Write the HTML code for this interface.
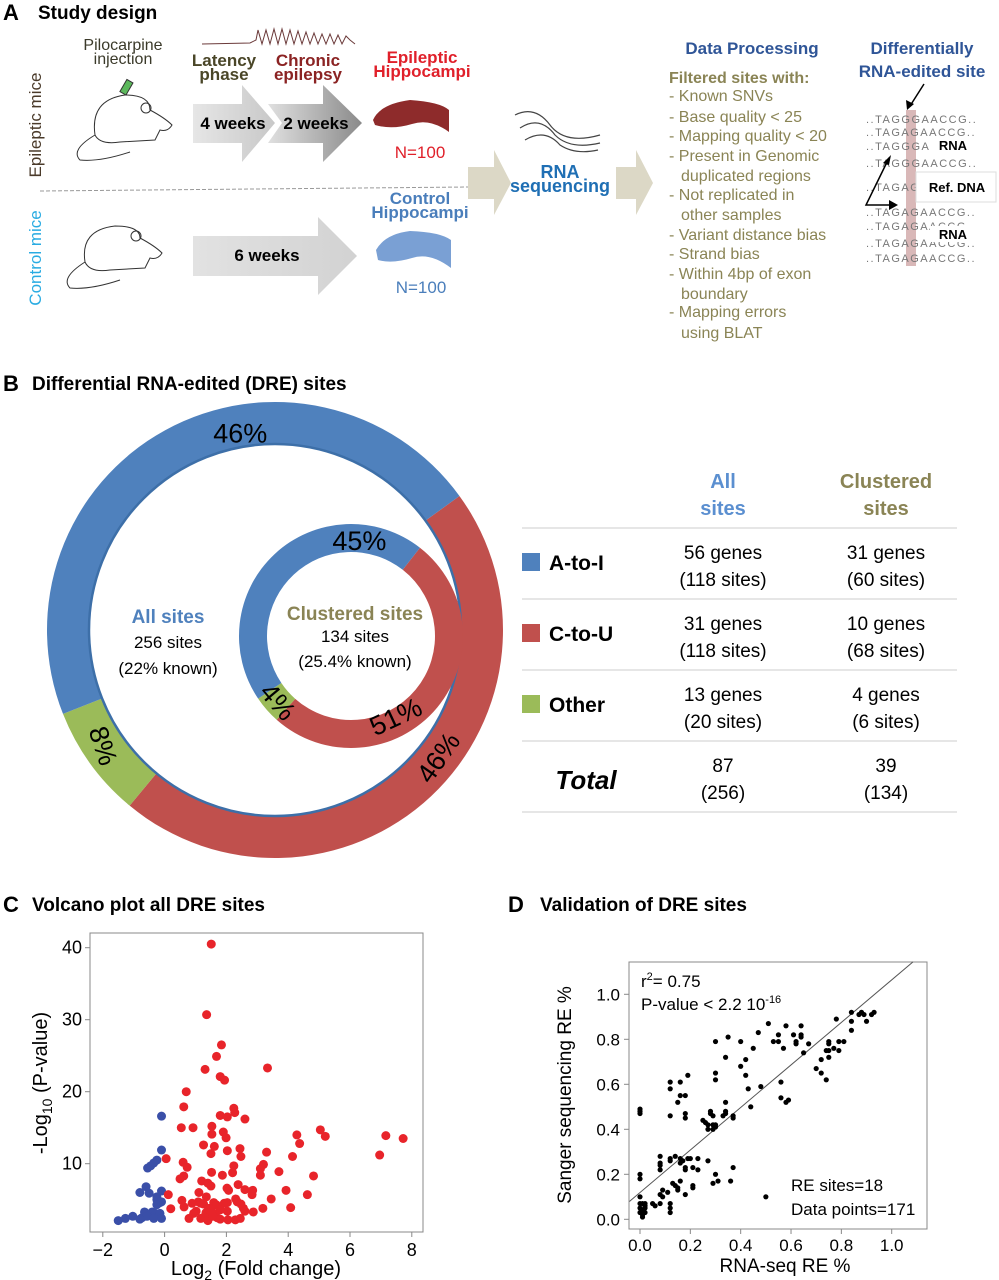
<!DOCTYPE html>
<html><head><meta charset="utf-8">
<style>
body{margin:0;background:#fff;width:999px;height:1280px;overflow:hidden;font-family:"Liberation Sans",sans-serif;}
svg{position:absolute;left:0;top:0;}
text{font-family:"Liberation Sans",sans-serif;}
</style></head>
<body>
<svg id="fig" width="999" height="1280" viewBox="0 0 999 1280">
<defs>
<linearGradient id="g1" x1="0" x2="1" y1="0" y2="0"><stop offset="0" stop-color="#e6e6e6"/><stop offset="1" stop-color="#c8c8c8"/></linearGradient>
<linearGradient id="g2" x1="0" x2="1" y1="0" y2="0"><stop offset="0" stop-color="#e0e0e0"/><stop offset="1" stop-color="#8a8a8a"/></linearGradient>
<linearGradient id="g3" x1="0" x2="1" y1="0" y2="0"><stop offset="0" stop-color="#e2e2e2"/><stop offset="1" stop-color="#d2d2d2"/></linearGradient>
</defs>
<!-- Panel A -->
<g>
<text x="3" y="20" font-size="22" font-weight="bold">A</text>
<text x="38" y="19" font-size="19" font-weight="bold">Study design</text>
<text x="123" y="50" font-size="16" fill="#3b3a2a" text-anchor="middle">Pilocarpine</text>
<text x="123" y="64" font-size="16" fill="#3b3a2a" text-anchor="middle">injection</text>
<path d="M202 44 L250 43 L256 40 L258 30 L262 44 L266 30 L270 44 L274 29 L278 44 L282 29 L286 44 L290 30 L294 44 L298 31 L302 44 L306 32 L310 44 L314 33 L318 44 L322 34 L326 44 L330 34 L334 44 L338 35 L342 44 L346 36 L350 40 L355 44" fill="none" stroke="#6b3a3a" stroke-width="1"/>
<text x="224" y="66" font-size="17" font-weight="bold" fill="#4a4628" text-anchor="middle">Latency</text>
<text x="224" y="80" font-size="17" font-weight="bold" fill="#4a4628" text-anchor="middle">phase</text>
<text x="308" y="66" font-size="17" font-weight="bold" fill="#8b2323" text-anchor="middle">Chronic</text>
<text x="308" y="80" font-size="17" font-weight="bold" fill="#8b2323" text-anchor="middle">epilepsy</text>
<path d="M193 104 H242 V85 L275 123 L242 162 V143 H193 Z" fill="url(#g1)"/>
<path d="M268 104 H323 V85 L362 123 L323 162 V143 H268 L282 123 Z" fill="url(#g2)"/>
<text x="233" y="129" font-size="17" font-weight="bold" text-anchor="middle">4 weeks</text>
<text x="316" y="129" font-size="17" font-weight="bold" text-anchor="middle">2 weeks</text>
<text x="422" y="63" font-size="17" font-weight="bold" fill="#e0202a" text-anchor="middle">Epileptic</text>
<text x="422" y="77" font-size="17" font-weight="bold" fill="#e0202a" text-anchor="middle">Hippocampi</text>
<path d="M373 120 Q380 104 410 100 Q440 102 449 110 L449 132 Q430 118 412 124 Q392 130 375 125 Z" fill="#8e2b2b"/>
<text x="420" y="158" font-size="17" fill="#e0202a" text-anchor="middle">N=100</text>
<text transform="translate(41,125) rotate(-90)" font-size="17" fill="#4a3a2a" text-anchor="middle">Epileptic mice</text>
<line x1="40" y1="191" x2="468" y2="187" stroke="#999" stroke-dasharray="4,2"/>
<text transform="translate(41,258) rotate(-90)" font-size="17" fill="#29abe2" text-anchor="middle">Control mice</text>
<path d="M193 236 H318 V217 L357 256 L318 295 V276 H193 Z" fill="url(#g3)"/>
<text x="267" y="261" font-size="17" font-weight="bold" text-anchor="middle">6 weeks</text>
<text x="420" y="204" font-size="17" font-weight="bold" fill="#4a7ebb" text-anchor="middle">Control</text>
<text x="420" y="218" font-size="17" font-weight="bold" fill="#4a7ebb" text-anchor="middle">Hippocampi</text>
<path d="M376 250 Q385 234 410 231 Q440 232 451 240 L451 268 Q430 252 412 258 Q392 264 378 260 Z" fill="#7aa0d4"/>
<text x="421" y="293" font-size="17" fill="#4a7ebb" text-anchor="middle">N=100</text>
<g fill="none" stroke="#333" stroke-width="1">
<path d="M95 135 Q90 100 125 95 Q150 95 150 110 Q165 118 172 125 Q168 132 160 130 L155 140 L120 142 Q100 145 95 135"/>
<circle cx="146" cy="108" r="5"/><path d="M95 135 Q70 150 80 160 Q100 162 130 152"/>
<rect x="123" y="80" width="7" height="14" fill="#5cb85c" transform="rotate(30 126 87)"/>
</g>
<g fill="none" stroke="#333" stroke-width="1">
<path d="M85 262 Q80 230 115 226 Q140 226 140 238 Q155 246 162 253 Q158 260 150 258 L145 268 L110 270 Q90 273 85 262"/>
<circle cx="136" cy="236" r="5"/><path d="M85 262 Q60 278 70 288 Q90 290 120 280"/>
</g>
<path d="M468 167 H494 V150 L511 183 L494 215 V199 H468 Z" fill="#dcd8c6"/>
<g stroke="#444" fill="none" stroke-width="1.2">
<path d="M515 115 Q535 105 550 125 Q565 145 600 135"/><path d="M520 128 Q540 115 555 135 Q570 150 600 143"/><path d="M525 140 Q545 128 560 145 Q575 155 598 150"/>
</g>
<text x="560" y="178" font-size="18" font-weight="bold" fill="#1f6fb4" text-anchor="middle">RNA</text>
<text x="560" y="192" font-size="18" font-weight="bold" fill="#1f6fb4" text-anchor="middle">sequencing</text>
<path d="M616 167 H636 V150 L653 183 L636 215 V199 H616 Z" fill="#dcd8c6"/>
<text x="752" y="54" font-size="17" font-weight="bold" fill="#2f5597" text-anchor="middle">Data Processing</text>
<text x="669" y="83" font-size="16" font-weight="bold" fill="#8a8455">Filtered sites with:</text>
<g font-size="16" fill="#8a8455">
<text x="669" y="101">-  Known SNVs</text>
<text x="669" y="122">-  Base quality &lt; 25</text>
<text x="669" y="141">-  Mapping quality &lt; 20</text>
<text x="669" y="161">-  Present in Genomic</text>
<text x="681" y="181">duplicated regions</text>
<text x="669" y="200">-  Not replicated in</text>
<text x="681" y="220">other samples</text>
<text x="669" y="240">-  Variant distance bias</text>
<text x="669" y="259">-  Strand bias</text>
<text x="669" y="279">-  Within 4bp of exon</text>
<text x="681" y="299">boundary</text>
<text x="669" y="317">-  Mapping errors</text>
<text x="681" y="338">using BLAT</text>
</g>
<text x="922" y="54" font-size="17" font-weight="bold" fill="#2f5597" text-anchor="middle">Differentially</text>
<text x="922" y="77" font-size="17" font-weight="bold" fill="#2f5597" text-anchor="middle">RNA-edited site</text>
<rect x="906" y="110" width="10" height="156" fill="#d9b8b8"/>
<line x1="924" y1="84" x2="910" y2="106" stroke="#000" stroke-width="1.5"/>
<polygon points="907,110 906,100 914,104" fill="#000"/>
<g font-size="11" fill="#777" font-family="Liberation Mono" letter-spacing="1.5">
<text x="866" y="123">..TAGGGAACCG..</text>
<text x="866" y="136">..TAGAGAACCG..</text>
<text x="866" y="150">..TAGGGAACCG..</text>
<text x="866" y="167">..TAGGGAACCG..</text>
<text x="866" y="191">..TAGAG</text>
<text x="866" y="216">..TAGAGAACCG..</text>
<text x="866" y="230">..TAGAGAACCG..</text>
<text x="866" y="247">..TAGAGAACCG..</text>
<text x="866" y="262">..TAGAGAACCG..</text>
</g>
<rect x="930" y="137" width="46" height="16" fill="#fff"/>
<text x="953" y="150" font-size="13" font-weight="bold" text-anchor="middle">RNA</text>
<rect x="916" y="172" width="80" height="30" fill="#fff" stroke="#ddd"/>
<text x="957" y="192" font-size="13" font-weight="bold" text-anchor="middle">Ref. DNA</text>
<rect x="930" y="226" width="46" height="16" fill="#fff"/>
<text x="953" y="239" font-size="13" font-weight="bold" text-anchor="middle">RNA</text>
<path d="M889 158 L866 205 L893 205" fill="none" stroke="#000" stroke-width="1.5"/>
<polygon points="891,155 883,163 889,165" fill="#000"/>
<polygon points="898,205 889,200 889,210" fill="#000"/>
</g>
<!-- Panel B -->
<g>
<text x="3" y="391" font-size="22" font-weight="bold">B</text>
<text x="32" y="390" font-size="19" font-weight="bold">Differential RNA-edited (DRE) sites</text>
<g id="donuts"></g>
<text x="168" y="623" font-size="19" font-weight="bold" fill="#4f81bd" text-anchor="middle">All sites</text>
<text x="168" y="648" font-size="17" text-anchor="middle">256 sites</text>
<text x="168" y="674" font-size="17" text-anchor="middle">(22% known)</text>
<text x="355" y="620" font-size="19" font-weight="bold" fill="#8a8455" text-anchor="middle">Clustered sites</text>
<text x="355" y="642" font-size="17" text-anchor="middle">134 sites</text>
<text x="355" y="667" font-size="17" text-anchor="middle">(25.4% known)</text>
<g>
<text x="723" y="488" font-size="20" font-weight="bold" fill="#5b8fd0" text-anchor="middle">All</text>
<text x="723" y="515" font-size="20" font-weight="bold" fill="#5b8fd0" text-anchor="middle">sites</text>
<text x="886" y="488" font-size="20" font-weight="bold" fill="#8a8455" text-anchor="middle">Clustered</text>
<text x="886" y="515" font-size="20" font-weight="bold" fill="#8a8455" text-anchor="middle">sites</text>
<g stroke="#ccc"><line x1="522" y1="528" x2="957" y2="528"/><line x1="522" y1="599" x2="957" y2="599"/><line x1="522" y1="670" x2="957" y2="670"/><line x1="522" y1="741" x2="957" y2="741"/><line x1="522" y1="812" x2="957" y2="812"/></g>
<rect x="522" y="553" width="18" height="18" fill="#4f81bd"/>
<text x="549" y="570" font-size="21" font-weight="bold">A-to-I</text>
<rect x="522" y="624" width="18" height="18" fill="#c0504d"/>
<text x="549" y="641" font-size="21" font-weight="bold">C-to-U</text>
<rect x="522" y="695" width="18" height="18" fill="#9bbb59"/>
<text x="549" y="712" font-size="21" font-weight="bold">Other</text>
<text x="586" y="789" font-size="26" font-weight="bold" font-style="italic" text-anchor="middle">Total</text>
<g font-size="19" text-anchor="middle">
<text x="723" y="559">56 genes</text><text x="723" y="586">(118 sites)</text>
<text x="886" y="559">31 genes</text><text x="886" y="586">(60 sites)</text>
<text x="723" y="630">31 genes</text><text x="723" y="657">(118 sites)</text>
<text x="886" y="630">10 genes</text><text x="886" y="657">(68 sites)</text>
<text x="723" y="701">13 genes</text><text x="723" y="728">(20 sites)</text>
<text x="886" y="701">4 genes</text><text x="886" y="728">(6 sites)</text>
<text x="723" y="772">87</text><text x="723" y="799">(256)</text>
<text x="886" y="772">39</text><text x="886" y="799">(134)</text>
</g>
</g>
</g>
<!-- Panel C -->
<g>
<text x="3" y="912" font-size="22" font-weight="bold">C</text>
<text x="32" y="911" font-size="19" font-weight="bold">Volcano plot all DRE sites</text>
<g id="volcano"></g>
</g>
<!-- Panel D -->
<g>
<text x="508" y="912" font-size="22" font-weight="bold">D</text>
<text x="540" y="911" font-size="19" font-weight="bold">Validation of DRE sites</text>
<g id="scatter"></g>
</g>
</svg>
<script>
// Donut data
const donutCategories = ['A-to-I','C-to-U','Other'];
const allSitesPct = [46, 46, 8];
const clusteredPct = [45, 51, 4];
// Volcano data
const volcanoBlueX = [-0.1,-0.1,-0.25,-0.35,-0.45,-0.55,-0.6,-0.8,-0.5,-0.1,-0.25,-0.25,-0.15,-0.1,-0.25,-0.65,-0.4,-0.3,-0.15,-1.03,-1.27,-1.5,-0.73,-0.57,-0.35,-0.1,-0.8];
const volcanoBlueY = [16.6,11.9,10.5,10.1,9.7,9.4,6.8,6.0,5.9,6.2,5.4,5.0,4.6,4.7,4.3,3.3,3.3,3.1,3.1,2.7,2.4,2.1,2.5,2.7,2.4,2.4,2.3];
const volcanoRedX = [1.51,1.36,1.84,1.68,1.31,3.33,1.8,1.94,0.7,0.62,2.24,2.27,1.8,2.03,2.6,0.54,0.92,1.53,1.53,1.9,1.99,4.28,5.04,5.2,7.16,7.72,4.37,1.26,1.61,2.44,2.03,3.3,1.5,2.47,4.14,6.96,0.05,0.6,0.73,3.2,2.24,3.1,3.7,1.52,2.2,3.1,1.87,4.82,0.62,0.5,1.2,1.4,1.5,2.38,2.02,2.07,2.6,3.93,2.85,1.11,2.83,4.62,0.12,1.35,2.3,0.56,1.09,1.59,2.35,2.47,3.45,0.89,1.26,1.67,1.93,2.03,0.63,2.55,4.08,3.18,0.2,1.43,1.8,1.02,2.03,2.87,2.6,0.94,1.34,1.62,1.28,1.7,0.79,1.17,1.8,2.05,2.29,2.45,1.4,1.54,1.56,1.17];
const volcanoRedY = [40.5,30.7,26.5,24.9,23.1,23.3,22.1,21.6,20.0,17.9,17.7,17.1,16.7,16.5,16.2,15.0,15.0,15.2,14.1,14.4,13.6,14.0,14.7,13.8,13.9,13.5,12.8,12.6,12.4,12.1,11.8,11.6,11.4,11.0,11.0,11.2,10.7,10.2,9.5,9.9,9.7,9.3,8.9,8.8,8.75,8.4,8.4,8.3,8.3,7.9,7.6,7.3,6.9,7.1,6.6,6.3,6.4,6.3,6.3,6.0,5.7,5.7,5.7,5.4,5.1,4.9,4.7,4.6,4.7,4.4,5.1,4.5,4.4,4.3,4.5,4.6,4.0,3.8,3.9,3.8,3.75,3.8,3.6,3.4,3.4,3.3,3.4,3.1,3.2,3.0,2.6,2.5,2.4,2.4,2.3,2.2,2.2,2.4,2.1,3.3,2.7,4.5];
const volcanoXTicks = [-2,0,2,4,6,8];
const volcanoYTicks = [10,20,30,40];
// Scatter data
const scatterX = [0,0,0,0,0,0,0,0,0.01,0.01,0.01,0.02,0.02,0.02,0.01,0,0.02,0.05,0.06,0.08,0.08,0.09,0.09,0.08,0.08,0.08,0.08,0.12,0.12,0.12,0.11,0.12,0.12,0.14,0.13,0.14,0.15,0.15,0.16,0.16,0.16,0.17,0.18,0.18,0.18,0.19,0.2,0.21,0.21,0.21,0.23,0.23,0.27,0.29,0.3,0.31,0.36,0.37,0.5,0.12,0.12,0.12,0.15,0.16,0.16,0.18,0.18,0.18,0.19,0.25,0.26,0.27,0.27,0.28,0.28,0.29,0.29,0.29,0.3,0.3,0.3,0.3,0.3,0.33,0.34,0.34,0.34,0.34,0.35,0.37,0.37,0.4,0.4,0.42,0.42,0.43,0.44,0.45,0.47,0.48,0.51,0.53,0.55,0.55,0.56,0.56,0.57,0.58,0.58,0.59,0.61,0.62,0.62,0.64,0.64,0.64,0.65,0.67,0.7,0.72,0.72,0.74,0.74,0.75,0.75,0.75,0.75,0.77,0.78,0.79,0.79,0.81,0.84,0.84,0.84,0.87,0.88,0.89,0.9,0.92,0.93];
const scatterY = [0.48,0.47,0.49,0.2,0.18,0.1,0.07,0.05,0.04,0.02,0.01,0.06,0.05,0.03,0.07,0.03,0.07,0.07,0.06,0.07,0.11,0.1,0.13,0.22,0.24,0.25,0.28,0.07,0.05,0.03,0.12,0.26,0.27,0.28,0.16,0.15,0.14,0.13,0.17,0.25,0.27,0.26,0.11,0.22,0.23,0.27,0.27,0.23,0.15,0.14,0.27,0.22,0.26,0.16,0.2,0.17,0.17,0.23,0.1,0.46,0.58,0.61,0.52,0.55,0.61,0.55,0.47,0.45,0.64,0.44,0.43,0.42,0.4,0.48,0.47,0.46,0.42,0.4,0.41,0.42,0.65,0.62,0.79,0.46,0.47,0.48,0.52,0.72,0.81,0.45,0.46,0.68,0.79,0.71,0.64,0.58,0.5,0.76,0.83,0.59,0.87,0.79,0.79,0.82,0.61,0.54,0.76,0.86,0.52,0.53,0.82,0.79,0.78,0.81,0.82,0.86,0.74,0.78,0.67,0.71,0.65,0.62,0.75,0.79,0.78,0.75,0.72,0.76,0.89,0.79,0.75,0.79,0.92,0.88,0.84,0.91,0.92,0.91,0.88,0.91,0.92];
const scatterTicks = [0.0,0.2,0.4,0.6,0.8,1.0];
const fitSlope = 0.945, fitIntercept = 0.119;

const NS='http://www.w3.org/2000/svg';
function mk(tag, attrs, parent){const e=document.createElementNS(NS,tag);for(const k in attrs)e.setAttribute(k,attrs[k]);parent.appendChild(e);return e;}

const colors=['#4f81bd','#c0504d','#9bbb59'];
function arcPath(cx,cy,r1,r2,a0,a1){
  const p=(r,a)=>[cx+r*Math.sin(a*Math.PI/180),cy-r*Math.cos(a*Math.PI/180)];
  const large=(a1-a0)>180?1:0;
  const [x1,y1]=p(r2,a0),[x2,y2]=p(r2,a1),[x3,y3]=p(r1,a1),[x4,y4]=p(r1,a0);
  return `M${x1},${y1} A${r2},${r2} 0 ${large} 1 ${x2},${y2} L${x3},${y3} A${r1},${r1} 0 ${large} 0 ${x4},${y4} Z`;
}
const dg=document.getElementById('donuts');
// label placement (angle from north, clockwise; radius; rotation) per category index
function drawDonut(vals,cx,cy,r1,r2,start,order,name,labAng,labR,fs,rots){
  let a=start;
  order.forEach(i=>{
    const sweep=vals[i]/100*360;
    const path=mk('path',{d:arcPath(cx,cy,r1,r2,a,a+sweep),fill:colors[i]},dg);
    
    
    a+=sweep;
  });
  order.forEach(i=>{
    const ang=labAng[i]*Math.PI/180;
    const lx=cx+labR[i]*Math.sin(ang), ly=cy-labR[i]*Math.cos(ang);
    const t=mk('text',{x:lx,y:ly+fs*0.35,'font-size':fs,'text-anchor':'middle',transform:`rotate(${rots[i]} ${lx} ${ly})`},dg);
    t.textContent=vals[i]+'%';
    
    
  });
}
drawDonut(allSitesPct,275,630,186,228,54,[1,2,0],'outer-ring',[-10,128,236],[200,207,207],27,[0,-55,72]);
mk('circle',{cx:275,cy:630,r:186,fill:'none',stroke:'#3d6fa8','stroke-width':2.5},dg);
drawDonut(clusteredPct,351,636,84,112,38,[1,2,0],'inner-ring',[5,151,228],[96,92,98],27,[0,-25,50]);

// Volcano
const vg=document.getElementById('volcano');
const vx=v=>164.6+v*30.9, vy=v=>1235.7-v*7.2;
mk('rect',{x:90,y:933,width:333,height:299,fill:'none',stroke:'#888','stroke-width':1},vg);
volcanoXTicks.forEach(t=>{mk('line',{x1:vx(t),x2:vx(t),y1:1232,y2:1237,stroke:'#888'},vg);const e=mk('text',{x:vx(t),y:1256,'font-size':18,'text-anchor':'middle'},vg);e.textContent=t<0?'\u2212'+(-t):t;

});
volcanoYTicks.forEach(t=>{mk('line',{x1:85,x2:90,y1:vy(t),y2:vy(t),stroke:'#888'},vg);const e=mk('text',{x:82,y:vy(t)+6,'font-size':18,'text-anchor':'end'},vg);e.textContent=t;

});
volcanoBlueX.forEach((x,i)=>{const c=mk('circle',{cx:vx(x),cy:vy(volcanoBlueY[i]),r:4.5,fill:'#3a4fa8'},vg);

});
volcanoRedX.forEach((x,i)=>{const c=mk('circle',{cx:vx(x),cy:vy(volcanoRedY[i]),r:4.5,fill:'#e8242a'},vg);

});
(function(){const t=mk('text',{x:256,y:1275,'font-size':20,'text-anchor':'middle'},vg);t.innerHTML='Log<tspan font-size="14" dy="5">2</tspan><tspan dy="-5"> (Fold change)</tspan>';


const y=mk('text',{x:0,y:0,'font-size':20,'text-anchor':'middle',transform:'translate(47,1083) rotate(-90)'},vg);y.innerHTML='-Log<tspan font-size="14" dy="5">10</tspan><tspan dy="-5"> (P-value)</tspan>';

})();

// Scatter
const sg=document.getElementById('scatter');
const sx=v=>640+v*251.7, sy=v=>1219.3-v*225;
mk('rect',{x:629,y:962,width:298,height:267,fill:'none',stroke:'#888'},sg);
scatterTicks.forEach(t=>{
 mk('line',{x1:sx(t),x2:sx(t),y1:1229,y2:1234,stroke:'#888'},sg);
 const a=mk('text',{x:sx(t),y:1251,'font-size':17,'text-anchor':'middle'},sg);a.textContent=t.toFixed(1);
 
 
 mk('line',{x1:624,x2:629,y1:sy(t),y2:sy(t),stroke:'#888'},sg);
 const b=mk('text',{x:620,y:sy(t)+6,'font-size':17,'text-anchor':'end'},sg);b.textContent=t.toFixed(1);
 
 
});
(function(){const x0=-0.042,x1=(913-640)/251.7;
 const l=mk('line',{x1:sx(x0),y1:sy(fitIntercept+fitSlope*x0),x2:sx(x1),y2:sy(fitIntercept+fitSlope*x1),stroke:'#555','stroke-width':1},sg);
 
 })();
scatterX.forEach((x,i)=>{const c=mk('circle',{cx:sx(x),cy:sy(scatterY[i]),r:2.6,fill:'#000'},sg);

});
(function(){
 const a=mk('text',{x:641,y:987,'font-size':17},sg);a.innerHTML='r<tspan font-size="11" dy="-7">2</tspan><tspan dy="7">= 0.75</tspan>';
 
 
 const b=mk('text',{x:641,y:1010,'font-size':17},sg);b.innerHTML='P-value &lt; 2.2 10<tspan font-size="11" dy="-7">-16</tspan>';
 
 
 const c=mk('text',{x:791,y:1191,'font-size':17},sg);c.textContent='RE sites=18';
 
 
 const d=mk('text',{x:791,y:1215,'font-size':17},sg);d.textContent='Data points=171';
 
 
 const e=mk('text',{x:785,y:1272,'font-size':19,'text-anchor':'middle'},sg);e.textContent='RNA-seq RE %';
 
 
 const f=mk('text',{x:0,y:0,'font-size':19,'text-anchor':'middle',transform:'translate(571,1095) rotate(-90)'},sg);f.textContent='Sanger sequencing RE %';
 
 
})();
</script>
</body></html>
